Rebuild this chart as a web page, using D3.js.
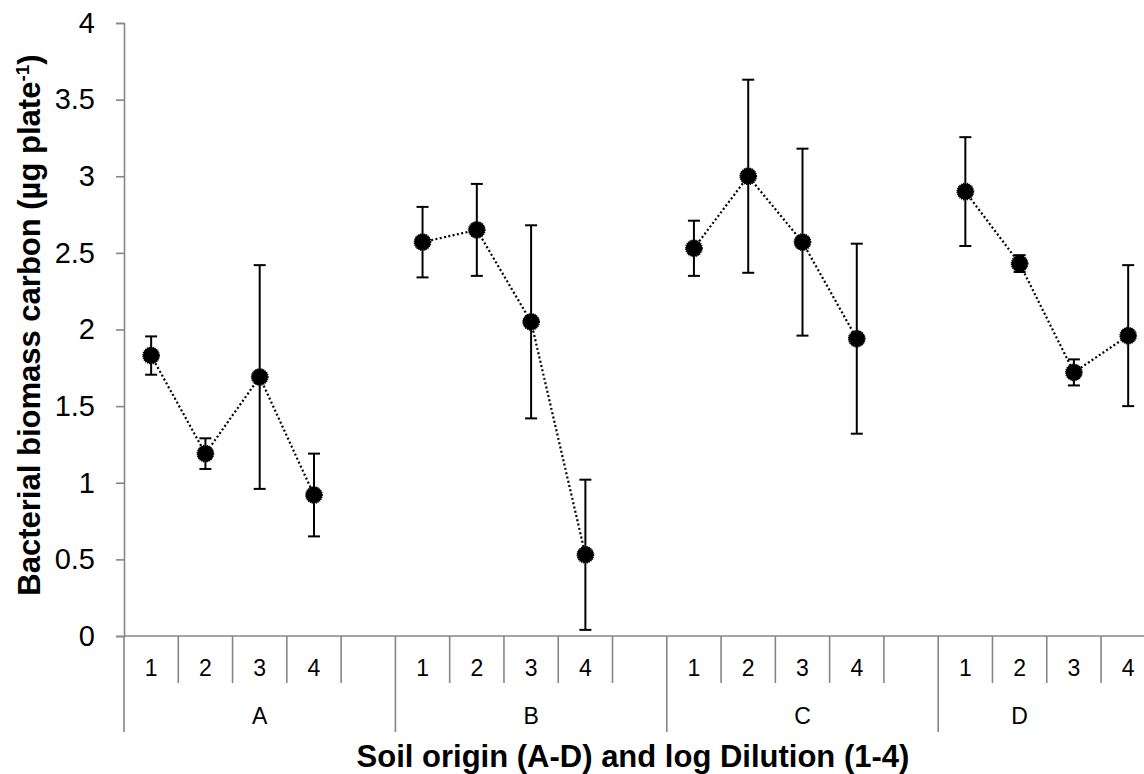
<!DOCTYPE html>
<html>
<head>
<meta charset="utf-8">
<script src="https://cdn.jsdelivr.net/npm/d3@7"></script>
<style>
  html, body { margin: 0; padding: 0; background: #fff; }
  svg { display: block; font-family: "Liberation Sans", Arial, sans-serif; }
</style>
</head>
<body>
<svg id="chart" width="1144" height="774"></svg>
<script>
// Soil origins and log dilutions
const groups = ["A", "B", "C", "D"];
const dilutions = ["1", "2", "3", "4"];

// Mean bacterial biomass carbon (µg plate-1) per dilution, per soil
const meanA = [1.83, 1.19, 1.69, 0.92];
const meanB = [2.57, 2.65, 2.05, 0.53];
const meanC = [2.53, 3.00, 2.57, 1.94];
const meanD = [2.90, 2.43, 1.72, 1.96];

// Error bar half-widths
const errA = [0.125, 0.10, 0.73, 0.27];
const errB = [0.23, 0.30, 0.63, 0.49];
const errC = [0.18, 0.63, 0.61, 0.62];
const errD = [0.355, 0.055, 0.085, 0.46];

const yTicks = [0, 0.5, 1, 1.5, 2, 2.5, 3, 3.5, 4];

const means = [meanA, meanB, meanC, meanD];
const errs = [errA, errB, errC, errD];

// Category slots: each soil has 4 dilutions followed by a blank spacer (except the last)
const slots = [];
groups.forEach((g, gi) => {
  dilutions.forEach(d => slots.push({ key: g + d, group: g, label: d }));
  if (gi < groups.length - 1) slots.push({ key: g + "_gap", group: g, label: "" });
});

const svg = d3.select("#chart");
const plotLeft = 124, plotTop = 23, plotBottom = 636;
const slotW = 54.28;

const x = d3.scaleBand()
  .domain(slots.map(s => s.key))
  .range([plotLeft, plotLeft + slotW * slots.length])
  .paddingInner(0).paddingOuter(0);

const y = d3.scaleLinear().domain([0, 4]).range([plotBottom, plotTop]);

const axisColor = "#868686";

// Y axis
const yAxis = d3.axisLeft(y).tickValues(yTicks).tickSize(8).tickPadding(21)
  .tickFormat(d => String(d));
const gy = svg.append("g").attr("transform", `translate(${plotLeft},0)`).call(yAxis);
gy.select(".domain").attr("stroke", axisColor).attr("stroke-width", 1.6);
gy.selectAll(".tick line").attr("stroke", axisColor).attr("stroke-width", 1.6);
gy.selectAll(".tick text").attr("font-size", 29).attr("fill", "#000")
  .attr("font-family", "Liberation Sans, Arial, sans-serif");

// X axis baseline
svg.append("line")
  .attr("x1", plotLeft).attr("x2", 1144)
  .attr("y1", plotBottom).attr("y2", plotBottom)
  .attr("stroke", axisColor).attr("stroke-width", 1.6);

// Slot dividers: short ones between dilutions, long ones between soils
const boundaries = slots.map((s, i) => ({ x: x(s.key), groupStart: i === 0 || slots[i - 1].group !== s.group }));
svg.append("g").selectAll("line")
  .data(boundaries)
  .join("line")
  .attr("x1", d => d.x).attr("x2", d => d.x)
  .attr("y1", plotBottom).attr("y2", d => d.groupStart ? 732 : 683)
  .attr("stroke", axisColor).attr("stroke-width", 1.6);

// Dilution labels
svg.append("g").selectAll("text")
  .data(slots.filter(s => s.label !== ""))
  .join("text")
  .attr("x", d => x(d.key) + x.bandwidth() / 2)
  .attr("y", 668)
  .attr("dy", "0.35em")
  .attr("text-anchor", "middle")
  .attr("font-size", 23)
  .attr("fill", "#000")
  .text(d => d.label);

// Soil labels centred on the drawn extent of each group
const groupCenters = groups.map(g => {
  const xs = boundaries.filter((b, i) => slots[i].group === g).map(b => b.x);
  const next = boundaries.find((b, i) => slots[i].group !== g && b.x > d3.max(xs));
  const end = next ? next.x : d3.max(xs);
  return { g, cx: (d3.min(xs) + end) / 2 };
});
svg.append("g").selectAll("text")
  .data(groupCenters)
  .join("text")
  .attr("x", d => d.cx)
  .attr("y", 716)
  .attr("dy", "0.35em")
  .attr("text-anchor", "middle")
  .attr("font-size", 23)
  .attr("fill", "#000")
  .text(d => d.g);

// Axis titles
svg.append("text")
  .attr("x", 633).attr("y", 767)
  .attr("text-anchor", "middle")
  .attr("font-size", 31).attr("font-weight", "bold")
  .attr("fill", "#000")
  .text("Soil origin (A-D) and log Dilution (1-4)");

const yt = svg.append("text")
  .attr("transform", "translate(40,325) rotate(-90)")
  .attr("text-anchor", "middle")
  .attr("font-size", 31).attr("font-weight", "bold")
  .attr("fill", "#000");
yt.append("tspan").text("Bacterial biomass carbon (µg plate");
yt.append("tspan").attr("font-size", 19).attr("dy", -11).text("-1");
yt.append("tspan").attr("dy", 11).text(")");

// Series points
const series = groups.map((g, gi) => dilutions.map((d, di) => ({
  key: g + d,
  v: means[gi][di],
  e: errs[gi][di]
})));
const cxOf = d => x(d.key) + x.bandwidth() / 2;

// Dotted connecting lines within each soil
const line = d3.line().x(cxOf).y(d => y(d.v));
svg.append("g").selectAll("path")
  .data(series)
  .join("path")
  .attr("d", line)
  .attr("fill", "none")
  .attr("stroke", "#000")
  .attr("stroke-width", 2.2)
  .attr("stroke-dasharray", "2,2.4");

// Error bars
const pts = series.flat();
const eb = svg.append("g").attr("stroke", "#000").attr("stroke-width", 2);
eb.selectAll("line.v").data(pts).join("line").attr("class", "v")
  .attr("x1", cxOf).attr("x2", cxOf)
  .attr("y1", d => y(d.v + d.e)).attr("y2", d => y(d.v - d.e));
eb.selectAll("line.t").data(pts).join("line").attr("class", "t")
  .attr("x1", d => cxOf(d) - 6).attr("x2", d => cxOf(d) + 6)
  .attr("y1", d => y(d.v + d.e)).attr("y2", d => y(d.v + d.e));
eb.selectAll("line.b").data(pts).join("line").attr("class", "b")
  .attr("x1", d => cxOf(d) - 6).attr("x2", d => cxOf(d) + 6)
  .attr("y1", d => y(d.v - d.e)).attr("y2", d => y(d.v - d.e));

// Markers
svg.append("g").selectAll("circle")
  .data(pts)
  .join("circle")
  .attr("cx", cxOf)
  .attr("cy", d => y(d.v))
  .attr("r", 8.2)
  .attr("fill", "#000")
  .attr("stroke", "#000")
  .attr("stroke-width", 1.4)
  .attr("stroke-dasharray", "1.1,0.9");
</script>
</body>
</html>
